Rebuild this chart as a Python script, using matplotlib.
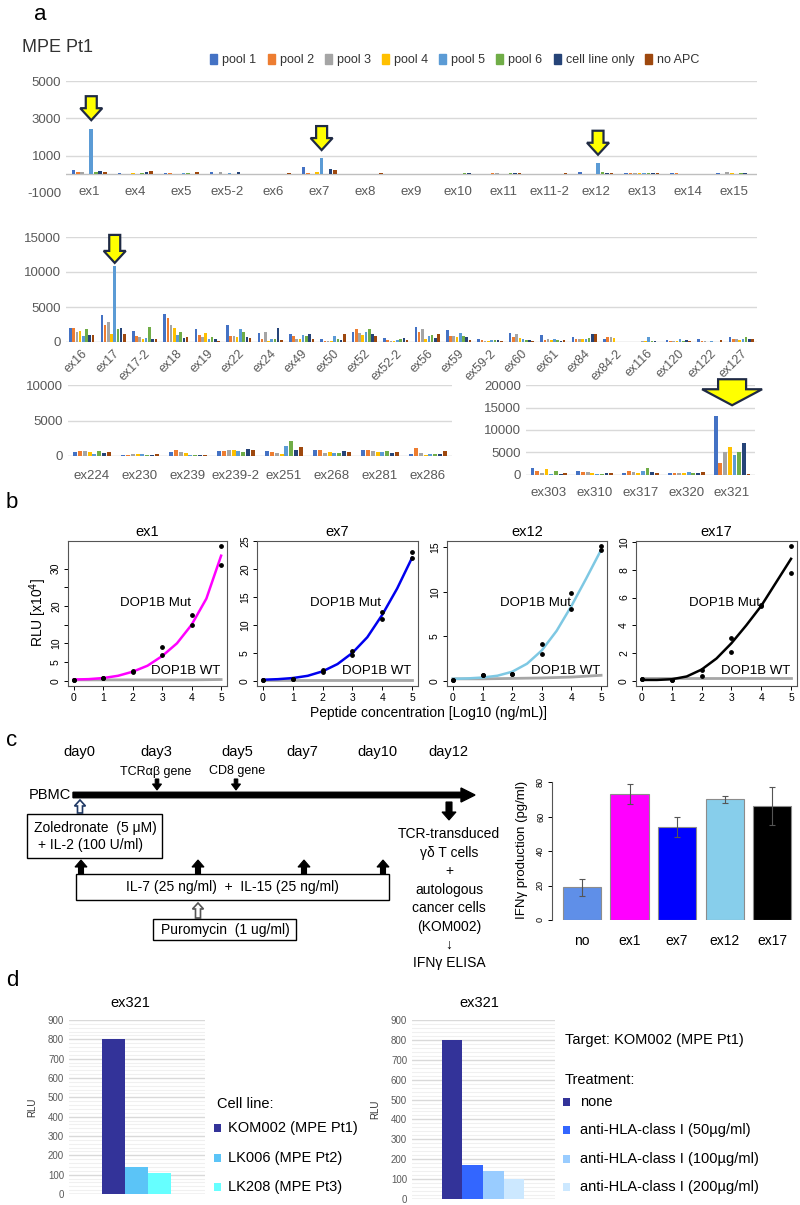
import numpy as np
import matplotlib
matplotlib.use('Agg')
import matplotlib.pyplot as plt
from matplotlib import transforms
from matplotlib.patches import Polygon, Rectangle, FancyArrow

NARROW = ['Liberation Sans Narrow', 'Liberation Sans', 'DejaVu Sans']
plt.rcParams['font.family'] = NARROW

# ---------------- data: panel a ----------------
series_names = ['pool 1', 'pool 2', 'pool 3', 'pool 4', 'pool 5', 'pool 6', 'cell line only', 'no APC']
series_colors = ['#4472C4', '#ED7D31', '#A5A5A5', '#FFC000', '#5B9BD5', '#70AD47', '#264478', '#9E480E']

row1_cats = ['ex1', 'ex4', 'ex5', 'ex5-2', 'ex6', 'ex7', 'ex8', 'ex9', 'ex10', 'ex11', 'ex11-2',
             'ex12', 'ex13', 'ex14', 'ex15']
row1_values = [
    [250, 80, 60, 100, 30, 400, 30, 0, 0, 0, 30, 120, 50, 50, 60],
    [100, 40, 60, 40, 0, 80, 0, 30, 0, 60, 0, 40, 70, 50, 40],
    [150, 0, 0, 130, 0, 0, 0, 0, 30, 50, 0, 40, 60, 0, 120],
    [0, 60, 40, 30, 0, 150, 30, 0, 0, 40, 30, 40, 70, 0, 60],
    [2450, 0, 60, 70, 30, 850, 0, 40, 0, 0, 40, 600, 70, 0, 40],
    [100, 60, 60, 30, 0, 0, 30, 0, 60, 80, 30, 120, 60, 0, 60],
    [200, 150, 40, 100, 0, 280, 40, 40, 60, 80, 40, 50, 70, 0, 60],
    [100, 170, 150, 0, 60, 250, 60, 0, 0, 50, 60, 70, 60, 0, 0],
]

row2_cats = ['ex16', 'ex17', 'ex17-2', 'ex18', 'ex19', 'ex22', 'ex24', 'ex49', 'ex50', 'ex52', 'ex52-2',
             'ex56', 'ex59', 'ex59-2', 'ex60', 'ex61', 'ex84', 'ex84-2', 'ex116', 'ex120', 'ex122', 'ex127']
row2_values = [
    [2000, 3900, 1600, 4000, 1800, 2400, 1300, 1100, 500, 1500, 600, 2200, 1700, 500, 1300, 1000, 700, 500, 0, 300, 500, 700],
    [2000, 2500, 900, 3500, 1000, 800, 500, 800, 200, 1800, 300, 1500, 900, 300, 700, 300, 500, 700, 0, 100, 100, 500],
    [1400, 2800, 700, 2400, 700, 900, 1400, 500, 100, 1300, 200, 1900, 800, 100, 1100, 500, 500, 700, 200, 100, 100, 400],
    [1600, 1200, 500, 2000, 1300, 700, 200, 400, 100, 1000, 200, 500, 700, 100, 600, 300, 500, 600, 100, 100, 0, 300],
    [900, 10800, 600, 1000, 400, 1900, 500, 1000, 900, 1500, 300, 800, 1300, 300, 400, 400, 400, 0, 700, 500, 100, 400],
    [1900, 1800, 2200, 1500, 700, 1500, 500, 900, 500, 1800, 400, 1000, 900, 300, 300, 300, 600, 0, 200, 100, 0, 700],
    [1000, 2000, 400, 600, 400, 700, 2000, 1200, 300, 1100, 600, 600, 700, 300, 300, 200, 1100, 0, 100, 300, 0, 400],
    [1000, 1200, 500, 700, 100, 600, 300, 400, 1100, 900, 300, 1100, 300, 200, 200, 300, 1200, 0, 0, 100, 300, 500],
]

row3a_cats = ['ex224', 'ex230', 'ex239', 'ex239-2', 'ex251', 'ex268', 'ex281', 'ex286']
row3a_values = [
    [500, 200, 600, 700, 650, 800, 850, 350],
    [700, 150, 800, 750, 550, 800, 900, 1150],
    [700, 250, 500, 850, 400, 450, 750, 400],
    [600, 250, 450, 850, 350, 550, 600, 150],
    [300, 250, 200, 650, 1400, 400, 500, 300],
    [700, 150, 150, 550, 2100, 450, 700, 300],
    [400, 150, 200, 950, 850, 650, 400, 300],
    [500, 350, 150, 850, 1300, 600, 550, 700],
]

row3b_cats = ['ex303', 'ex310', 'ex317', 'ex320', 'ex321']
row3b_values = [
    [1600, 900, 400, 500, 13000],
    [800, 600, 900, 500, 2700],
    [400, 700, 600, 400, 5100],
    [1400, 500, 400, 500, 6200],
    [300, 300, 900, 600, 4500],
    [900, 300, 1600, 400, 5000],
    [300, 500, 600, 400, 7200],
    [500, 400, 500, 600, 300],
]

# ---------------- data: panel b ----------------
b_titles = ['ex1', 'ex7', 'ex12', 'ex17']
b_colors = ['#FF00FF', '#0000EE', '#7EC8E3', '#000000']
b_conc = [0, 1, 2, 3, 4, 5]
b_rep1 = [[0.3, 0.6, 2.2, 6.8, 15.0, 31.0],
          [0.1, 0.4, 1.5, 4.6, 11.0, 22.0],
          [0.1, 0.6, 0.8, 3.0, 8.1, 14.7],
          [0.1, 0.05, 0.3, 2.1, 5.4, 7.8]]
b_rep2 = [[0.3, 0.6, 2.6, 9.0, 17.7, 36.0],
          [0.1, 0.4, 2.0, 5.3, 12.3, 23.0],
          [0.1, 0.6, 0.8, 4.1, 9.8, 15.1],
          [0.1, 0.05, 0.8, 3.1, 5.5, 9.7]]
b_curve_x = [0, 0.5, 1, 1.5, 2, 2.5, 3, 3.5, 4, 4.5, 5]
b_curve = [[0.3, 0.4, 0.7, 1.3, 2.4, 4.0, 6.6, 10.0, 15.0, 22.0, 33.5],
           [0.2, 0.3, 0.5, 0.9, 1.7, 3.0, 5.0, 7.8, 11.8, 16.5, 22.0],
           [0.2, 0.25, 0.35, 0.55, 1.0, 1.9, 3.4, 5.6, 8.4, 11.5, 14.7],
           [0.05, 0.05, 0.1, 0.3, 0.8, 1.6, 2.7, 4.0, 5.4, 7.1, 8.8]]
b_wt = [[0.2, 0.2, 0.2, 0.2, 0.2, 0.3],
        [0.2, 0.2, 0.2, 0.2, 0.2, 0.2],
        [0.2, 0.2, 0.25, 0.3, 0.4, 0.6],
        [0.2, 0.2, 0.2, 0.2, 0.2, 0.2]]
b_yticks = [[0, 5, 10, 15, 20, 25, 30], [0, 5, 10, 15, 20, 25], [0, 5, 10, 15], [0, 2, 4, 6, 8, 10]]
b_ylabels = [['0', '5', '10', '', '20', '', '30'], ['0', '5', '10', '15', '20', '25'],
             ['0', '5', '10', '15'], ['0', '2', '4', '6', '8', '10']]

# ---------------- data: panel c ----------------
c_cats = ['no', 'ex1', 'ex7', 'ex12', 'ex17']
c_values = [19, 73, 54, 70, 66]
c_errors = [5, 6, 6, 2, 11]
c_colors = ['#5F8FE8', '#FF00FF', '#0000FF', '#87CEEB', '#000000']

# ---------------- data: panel d ----------------
d1_labels = ['KOM002 (MPE Pt1)', 'LK006 (MPE Pt2)', 'LK208 (MPE Pt3)']
d1_values = [800, 140, 110]
d1_colors = ['#333399', '#5BC4F7', '#66FFFF']
d2_labels = ['none', 'anti-HLA-class I (50µg/ml)', 'anti-HLA-class I (100µg/ml)', 'anti-HLA-class I (200µg/ml)']
d2_values = [800, 170, 140, 100]
d2_colors = ['#333399', '#3366FF', '#99CCFF', '#CCE8FF']

# ---------------- figure ----------------
W, H = 800, 1205
fig = plt.figure(figsize=(W / 100, H / 100), dpi=100)


def ax_px(x0, y0, x1, y1):
    return fig.add_axes([x0 / W, 1 - y1 / H, (x1 - x0) / W, (y1 - y0) / H])


def grouped_bars(ax, values, group_frac):
    n = len(values)
    ncat = len(values[0])
    x = np.arange(ncat)
    bw = group_frac / n
    for k in range(n):
        ax.bar(x - group_frac / 2 + bw * (k + 0.5), values[k], width=bw * 0.8,
               color=series_colors[k], linewidth=0, zorder=2)
    ax.set_xlim(-0.5, ncat - 0.5)
    return -group_frac / 2 + bw * 4.5


def excel_style(ax, ylim, yticks, grid, labels, pad, rot=False):
    ax.set_ylim(*ylim)
    ax.set_yticks(yticks)
    ax.set_yticklabels([str(t) for t in yticks])
    for g in grid:
        ax.axhline(g, color='#D9D9D9', lw=1, zorder=0)
    ax.axhline(0, color='#BFBFBF', lw=1, zorder=1)
    for s in ax.spines.values():
        s.set_visible(False)
    ax.tick_params(length=0, colors='#595959', labelsize=9.5)
    ax.set_xticks(np.arange(len(labels)))
    if rot:
        ax.set_xticklabels(labels, rotation=45, ha='right', rotation_mode='anchor', fontsize=9)
    else:
        ax.set_xticklabels(labels)
    ax.tick_params(axis='x', pad=pad)
    ax.patch.set_alpha(0)


def yellow_arrow(ax, x, y, length, tail_w, head_w, head_l):
    t = fig.dpi_scale_trans + transforms.ScaledTranslation(x, y, ax.transData)
    s = 1 / 100
    v = [(-tail_w / 2, length), (tail_w / 2, length), (tail_w / 2, head_l), (head_w / 2, head_l),
         (0, 0), (-head_w / 2, head_l), (-tail_w / 2, head_l)]
    ax.add_patch(Polygon([(a * s, b * s) for a, b in v], closed=True, transform=t,
                         fc='#FFFF00', ec='#1F2A44', lw=1.6, clip_on=False, zorder=5))


# Row 1
ax1 = ax_px(66, 81, 757, 193)
off = grouped_bars(ax1, row1_values, 0.78)
excel_style(ax1, (-1000, 5000), [-1000, 1000, 3000, 5000], [1000, 3000, 5000], row1_cats, -5)
for ci in [0, 5, 11]:
    yellow_arrow(ax1, ci + off, row1_values[4][ci] + 450, 24, 11, 22, 12)

# Row 2
ax2 = ax_px(66, 237, 757, 342)
off = grouped_bars(ax2, row2_values, 0.82)
excel_style(ax2, (0, 15000), [0, 5000, 10000, 15000], [5000, 10000, 15000], row2_cats, 4, rot=True)
yellow_arrow(ax2, 1 + off, row2_values[4][1] + 500, 28, 11, 22, 12)

# Row 3 left
ax3 = ax_px(68, 385, 452, 456)
grouped_bars(ax3, row3a_values, 0.82)
excel_style(ax3, (0, 10000), [0, 5000, 10000], [5000, 10000], row3a_cats, 10)

# Row 3 right
ax4 = ax_px(526, 385, 755, 475)
grouped_bars(ax4, row3b_values, 0.82)
excel_style(ax4, (0, 20000), [0, 5000, 10000, 15000, 20000], [5000, 10000, 15000, 20000], row3b_cats, 9)
yellow_arrow(ax4, 4, row3b_values[0][4] + 2500, 26, 28, 60, 16)

handles = [Rectangle((0, 0), 1, 1, color=c) for c in series_colors]
fig.legend(handles, series_names, loc='center', bbox_to_anchor=(455 / W, 1 - 60 / H), ncol=8,
           frameon=False, fontsize=9, handlelength=0.55, handleheight=0.9, handletextpad=0.4,
           columnspacing=0.9, labelcolor='#333333')

# ---------------- panel b ----------------
b_boxes = [(68, 541, 227, 686), (257, 541, 418, 686), (447, 541, 607, 686), (636, 541, 797, 686)]
for i in range(4):
    ax = ax_px(*b_boxes[i])
    allv = b_rep1[i] + b_rep2[i]
    lo, hi = 0, max(allv)
    pad = (hi - lo) * 0.04
    ax.set_ylim(lo - pad, hi + pad)
    ax.set_xlim(-0.2, 5.2)
    ax.plot(b_conc, b_wt[i], color='#A6A6A6', lw=2, zorder=2)
    ax.plot(b_curve_x, b_curve[i], color=b_colors[i], lw=1.8, zorder=3)
    ax.scatter(b_conc, b_rep1[i], s=6, color='black', zorder=4)
    ax.scatter(b_conc, b_rep2[i], s=6, color='black', zorder=4)
    ax.set_xticks(b_conc)
    ax.set_yticks(b_yticks[i])
    ax.set_yticklabels(b_ylabels[i], rotation=90, va='center')
    ax.tick_params(labelsize=7.5, length=3, width=0.7, pad=2)
    for s in ax.spines.values():
        s.set_color('#555555')
        s.set_linewidth(0.8)
    ax.text(0.55, 0.57, 'DOP1B Mut', transform=ax.transAxes, ha='center', va='center', fontsize=9.5)
    ax.text(0.96, 0.10, 'DOP1B WT', transform=ax.transAxes, ha='right', va='center', fontsize=9.5)
    fig.text((b_boxes[i][0] + b_boxes[i][2]) / 2 / W, 1 - 532 / H, b_titles[i], ha='center',
             va='center', fontsize=10.5)

fig.text(38 / W, 1 - 612 / H, 'RLU [x10$^4$]', rotation=90, ha='center', va='center', fontsize=10,
         family=['Liberation Sans', 'DejaVu Sans'])
fig.text(428 / W, 1 - 713 / H, 'Peptide concentration [Log10 (ng/mL)]', ha='center', va='center',
         fontsize=10)

# ---------------- panel c bar chart ----------------
axc = ax_px(552, 782, 795, 920)
xc = np.arange(len(c_cats))
axc.bar(xc, c_values, width=0.8, color=c_colors, edgecolor='#8C8C8C', linewidth=0.8, zorder=2)
axc.errorbar(xc, c_values, yerr=c_errors, fmt='none', ecolor='#555555', elinewidth=0.8, capsize=2.5,
             capthick=0.8, zorder=3)
axc.set_xlim(-0.63, 4.48)
axc.set_ylim(0, 80)
for s in ['top', 'right', 'bottom']:
    axc.spines[s].set_visible(False)
axc.spines['left'].set_bounds(0, 80)
axc.spines['left'].set_color('#555555')
axc.set_yticks([0, 20, 40, 60, 80])
axc.set_yticklabels(['0', '20', '40', '60', '80'], rotation=90, va='center')
axc.tick_params(axis='y', labelsize=6.5, length=3, width=0.7, pad=2)
axc.set_xticks(xc)
axc.set_xticklabels(c_cats)
axc.tick_params(axis='x', length=0, labelsize=10, pad=10)
axc.patch.set_alpha(0)
fig.text(522 / W, 1 - 850 / H, 'IFNγ production (pg/ml)', rotation=90, ha='center', va='center',
         fontsize=9.5, family=['Liberation Sans', 'DejaVu Sans'])

# ---------------- panel d charts ----------------
def d_chart(box, values, colors, xlim, title_x):
    ax = ax_px(*box)
    xs = np.arange(len(values))
    ax.set_ylim(0, 900)
    ax.set_xlim(*xlim)
    for g in range(20, 900, 20):
        if g % 100:
            ax.axhline(g, color='#F0F0F0', lw=0.8, zorder=0)
    for g in range(100, 1000, 100):
        ax.axhline(g, color='#D9D9D9', lw=1, zorder=0)
    ax.axhline(0, color='#BFBFBF', lw=1, zorder=1)
    ax.bar(xs, values, width=1.0, color=colors, linewidth=0, zorder=2)
    for s in ax.spines.values():
        s.set_visible(False)
    ax.set_xticks([])
    ax.set_yticks(range(0, 1000, 100))
    ax.tick_params(axis='y', length=0, labelsize=7, colors='#595959')
    ax.set_ylabel('RLU', fontsize=7, color='#333333', labelpad=8)
    ax.patch.set_alpha(0)
    fig.text(title_x / W, 1 - 1003 / H, 'ex321', ha='center', va='center', fontsize=10.5)
    return ax

d_chart((69, 1020, 205, 1194), d1_values, d1_colors, (-1.93, 3.98), 130)
d_chart((412, 1020, 555, 1199), d2_values, d2_colors, (-1.96, 5.01), 479)

# ---------------- overlay (diagram, labels) ----------------
ov = fig.add_axes([0, 0, 1, 1])
ov.set_xlim(0, W)
ov.set_ylim(H, 0)
ov.axis('off')
ov.patch.set_alpha(0)


def block(xc_, y_tip, y_base, tail_w, head_w, head_l, fc='black', ec='black', lw=0.8):
    d = 1 if y_base < y_tip else -1  # 1 pointing down
    hb = y_tip - d * head_l
    v = [(xc_ - tail_w / 2, y_base), (xc_ + tail_w / 2, y_base), (xc_ + tail_w / 2, hb),
         (xc_ + head_w / 2, hb), (xc_, y_tip), (xc_ - head_w / 2, hb), (xc_ - tail_w / 2, hb)]
    ov.add_patch(Polygon(v, closed=True, fc=fc, ec=ec, lw=lw))


for lab, x, y in [('a', 40, 14), ('b', 12, 502), ('c', 12, 741), ('d', 12, 981)]:
    ov.text(x, y, lab, fontsize=16, ha='center', va='center', family=['Liberation Sans', 'DejaVu Sans'])
ov.text(22, 48, 'MPE Pt1', fontsize=13, ha='left', va='center', color='#333333')

# timeline
for lab, x in [('day0', 79), ('day3', 156), ('day5', 237), ('day7', 302), ('day10', 377), ('day12', 448)]:
    ov.text(x, 752, lab, ha='center', va='center', fontsize=10.5)
ov.text(156, 772, 'TCRαβ gene', ha='center', va='center', fontsize=9)
ov.text(237, 771, 'CD8 gene', ha='center', va='center', fontsize=9)
block(157, 790, 779, 3.5, 9, 6)
block(236, 790, 779, 3.5, 9, 6)
ov.text(50, 795, 'PBMC', ha='center', va='center', fontsize=10.5)
ov.add_patch(FancyArrow(73, 795, 402, 0, width=5.5, head_width=14, head_length=14,
                        length_includes_head=True, fc='black', ec='black'))
block(80, 800, 813, 5, 11, 6, fc='white', ec='#1F3864', lw=1.2)
ov.add_patch(Rectangle((27, 814), 135, 44, fc='white', ec='black', lw=1))
ov.text(95, 828, 'Zoledronate  (5 μM)', ha='center', va='center', fontsize=10)
ov.text(90, 845, '+ IL-2 (100 U/ml)', ha='center', va='center', fontsize=10)
for x in [81, 198, 304, 383]:
    block(x, 860, 874, 5, 12, 7)
ov.add_patch(Rectangle((76, 874), 313, 26, fc='white', ec='black', lw=1))
ov.text(232, 887, 'IL-7 (25 ng/ml)  +  IL-15 (25 ng/ml)', ha='center', va='center', fontsize=10)
block(198, 903, 918, 5, 11, 6, fc='white', ec='#555555', lw=1.2)
ov.add_patch(Rectangle((153, 919), 143, 21, fc='white', ec='black', lw=1))
ov.text(225, 930, 'Puromycin  (1 ug/ml)', ha='center', va='center', fontsize=10)
block(449, 820, 802, 6, 14, 8)
for txt, y in [('TCR-transduced', 834), ('γδ T cells', 853), ('+', 871), ('autologous', 890),
               ('cancer cells', 908), ('(KOM002)', 927), ('↓', 945), ('IFNγ ELISA', 963)]:
    ov.text(449, y, txt, ha='center', va='center', fontsize=10, family=NARROW + ['DejaVu Sans'])

# panel d legends
ov.text(217, 1104, 'Cell line:', ha='left', va='center', fontsize=10.5)
for lab, col, y in zip(d1_labels, d1_colors, [1128, 1158, 1187]):
    ov.add_patch(Rectangle((214, y - 4), 7, 8, fc=col, ec='none'))
    ov.text(228, y, lab, ha='left', va='center', fontsize=10.5)
ov.text(565, 1040, 'Target: KOM002 (MPE Pt1)', ha='left', va='center', fontsize=10.5)
ov.text(565, 1080, 'Treatment:', ha='left', va='center', fontsize=10.5)
for lab, col, y in zip(d2_labels, d2_colors, [1102, 1130, 1159, 1187]):
    ov.add_patch(Rectangle((563, y - 4), 7, 8, fc=col, ec='none'))
    ov.text(580, y, lab, ha='left', va='center', fontsize=10.5)

fig.savefig('out.png', dpi=100)
